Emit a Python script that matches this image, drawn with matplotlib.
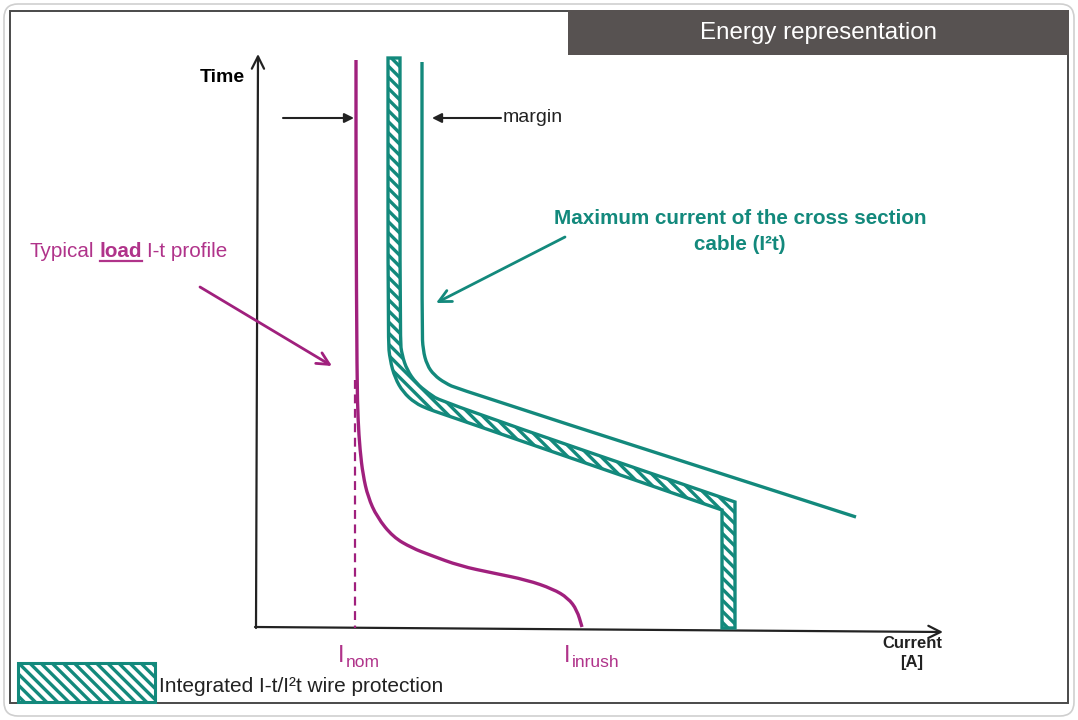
import matplotlib
matplotlib.use("Agg")
import matplotlib.pyplot as plt
from matplotlib.patches import Rectangle, FancyBboxPatch, PathPatch
from matplotlib.path import Path

plt.rcParams['font.family'] = ['Liberation Sans', 'DejaVu Sans']
plt.rcParams['hatch.linewidth'] = 2.4

TEAL = '#13897c'
MAG_LINE = '#a0207d'
MAG_TEXT = '#b0338a'
DARK = '#222222'

# ---- data (schematic coordinates: current -> right, time -> down in image space) ----
load_current = [356, 356, 357, 358, 360, 363, 368, 377, 393, 412, 430, 460, 493, 527, 553, 568, 577, 582]
load_time = [60, 200, 380, 420, 450, 475, 497, 517, 537, 548, 555, 566, 573, 580, 589, 598, 610, 627]

nom_current = [355, 355]
nom_time = [380, 628]

band_low_current = [388, 388, 390, 395, 403, 415, 428, 440, 722, 722]
band_low_time = [58, 340, 360, 378, 392, 403, 409, 413, 510, 628]
band_up_current = [400, 400, 402, 407, 416, 428, 442, 735, 735]
band_up_time = [58, 340, 355, 370, 383, 393, 402, 502, 628]
band_low_sharp = [8]
band_up_sharp = [7]

cable_current = [422, 422, 423, 427, 434, 445, 458, 856]
cable_time = [62, 330, 350, 365, 375, 383, 389, 517]


def smooth_verts(xs, ys, sharp=()):
    pts = list(zip(xs, ys))
    verts = [pts[0]]
    codes = [Path.MOVETO]
    n = len(pts)
    for i in range(1, n - 1):
        if i in sharp:
            verts.append(pts[i]); codes.append(Path.LINETO)
        else:
            a = ((pts[i - 1][0] + pts[i][0]) / 2, (pts[i - 1][1] + pts[i][1]) / 2)
            b = ((pts[i][0] + pts[i + 1][0]) / 2, (pts[i][1] + pts[i + 1][1]) / 2)
            verts += [a, pts[i], b]
            codes += [Path.LINETO, Path.CURVE3, Path.CURVE3]
    verts.append(pts[-1]); codes.append(Path.LINETO)
    return verts, codes


fig = plt.figure(figsize=(10.78, 7.2), dpi=100)
ax = fig.add_axes([0, 0, 1, 1])
ax.set_xlim(0, 1078)
ax.set_ylim(720, 0)
ax.axis('off')

# frames
ax.add_patch(FancyBboxPatch((4, 4), 1070, 712, boxstyle="round,pad=0,rounding_size=14",
                            facecolor='white', edgecolor='#cfcfcf', lw=1.2, zorder=0))
ax.add_patch(Rectangle((10, 11), 1058, 692, facecolor='none', edgecolor='#4a4a4a', lw=1.4, zorder=1))
ax.add_patch(Rectangle((568, 10), 501, 45, facecolor='#575251', edgecolor='none', zorder=2))
ax.text(818, 33, 'Energy representation', color='white', fontsize=17.4, ha='center', va='center', zorder=3)

# axes arrows
ax.annotate('', xy=(258, 54), xytext=(256, 628),
            arrowprops=dict(arrowstyle='->', color=DARK, lw=1.6, mutation_scale=22, shrinkA=0, shrinkB=0))
ax.annotate('', xy=(943, 632), xytext=(255, 627),
            arrowprops=dict(arrowstyle='->', color=DARK, lw=1.6, mutation_scale=22, shrinkA=0, shrinkB=0))
ax.text(222, 77, 'Time', fontsize=14, fontweight='bold', ha='center', va='center', color='black')
ax.text(912, 643, 'Current', fontsize=12, fontweight='bold', ha='center', va='center', color=DARK)
ax.text(912, 663, '[A]', fontsize=12, fontweight='bold', ha='center', va='center', color=DARK)

# hatched protection band
lv, lc = smooth_verts(band_low_current, band_low_time, band_low_sharp)
uv, uc = smooth_verts(band_up_current[::-1], band_up_time[::-1],
                      [len(band_up_current) - 1 - s for s in band_up_sharp])
band_verts = lv + uv + [lv[0]]
band_codes = lc + [Path.LINETO] + uc[1:] + [Path.CLOSEPOLY]
ax.add_patch(PathPatch(Path(band_verts, band_codes), facecolor='white', edgecolor=TEAL,
                       hatch='\\\\\\', lw=2.4, joinstyle='miter', zorder=4))

# cable max current
cv, cc = smooth_verts(cable_current, cable_time)
ax.add_patch(PathPatch(Path(cv, cc), facecolor='none', edgecolor=TEAL, lw=2.4, capstyle='butt', zorder=4))

# load profile
mv, mc = smooth_verts(load_current, load_time)
ax.add_patch(PathPatch(Path(mv, mc), facecolor='none', edgecolor=MAG_LINE, lw=2.4, zorder=5))
ax.plot(nom_current, nom_time, color=MAG_LINE, lw=1.6, ls=(0, (4, 2.5)), zorder=5)

# margin arrows
ax.annotate('', xy=(354, 118), xytext=(283, 118),
            arrowprops=dict(arrowstyle='-|>', color=DARK, lw=1.5, mutation_scale=14, shrinkA=0, shrinkB=0))
ax.annotate('', xy=(432, 118), xytext=(501, 118),
            arrowprops=dict(arrowstyle='-|>', color=DARK, lw=1.5, mutation_scale=14, shrinkA=0, shrinkB=0))
ax.text(503, 118, 'margin', fontsize=14, ha='left', va='center', color=DARK)

# annotation arrows
ax.annotate('', xy=(436, 303), xytext=(565, 237),
            arrowprops=dict(arrowstyle='->', color=TEAL, lw=2.0, mutation_scale=22, shrinkA=0, shrinkB=0))
ax.annotate('', xy=(332, 366), xytext=(200, 287),
            arrowprops=dict(arrowstyle='->', color=MAG_LINE, lw=2.0, mutation_scale=22, shrinkA=0, shrinkB=0))

ax.text(740, 218, 'Maximum current of the cross section', fontsize=14.9, fontweight='bold',
        ha='center', va='center', color=TEAL)
ax.text(740, 244, 'cable (I²t)', fontsize=14.9, fontweight='bold', ha='center', va='center', color=TEAL)

# legend
ax.add_patch(Rectangle((18, 663), 137, 39, facecolor='white', edgecolor=TEAL, hatch='\\\\\\', lw=2.2, zorder=4))
ax.text(159, 687, 'Integrated I-t/I²t wire protection', fontsize=15, ha='left', va='center', color=DARK)

fig.canvas.draw()
r = fig.canvas.get_renderer()
inv = ax.transData.inverted()


def right_edge(t):
    bb = t.get_window_extent(r)
    return inv.transform((bb.x1, bb.y0))[0]


# rich label: Typical **load** I-t profile
t1 = ax.text(30, 257, 'Typical', fontsize=14.9, ha='left', va='baseline', color=MAG_TEXT)
x = right_edge(t1) + 5
t2 = ax.text(x, 257, 'load', fontsize=14.9, fontweight='bold', ha='left', va='baseline', color=MAG_TEXT)
x2 = right_edge(t2)
ax.plot([x, x2], [261, 261], color=MAG_TEXT, lw=1.6)
ax.text(x2 + 5, 257, 'I-t profile', fontsize=14.9, ha='left', va='baseline', color=MAG_TEXT)

# current labels with subscripts
for xi, sub in [(338, 'nom'), (564, 'inrush')]:
    ti = ax.text(xi, 662, 'I', fontsize=17, ha='left', va='baseline', color=MAG_TEXT)
    xe = right_edge(ti)
    ax.text(xe + 1, 667, sub, fontsize=12.5, ha='left', va='baseline', color=MAG_TEXT)

fig.savefig('out.png', dpi=100)
